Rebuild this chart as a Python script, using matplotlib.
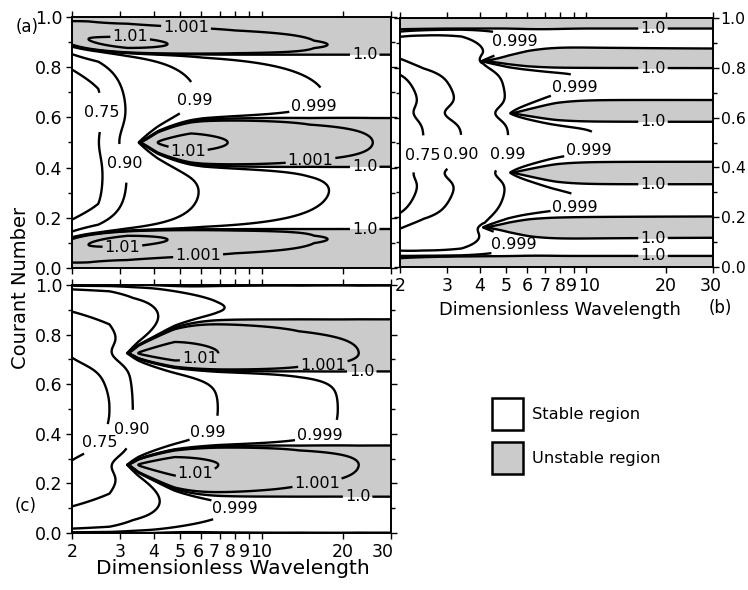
import numpy as np
import matplotlib
matplotlib.use("Agg")
import matplotlib.pyplot as plt
from matplotlib.patches import Rectangle
from matplotlib.transforms import ScaledTranslation
from matplotlib.ticker import FixedLocator, FixedFormatter, MultipleLocator, NullLocator, NullFormatter

plt.rcParams["font.family"] = ["DejaVu Sans"]

# ------------------------------------------------------------------ shared
LEVELS = [0.75, 0.90, 0.99, 0.999, 1.0, 1.001, 1.01]
LEVEL_TEXT = ["0.75", "0.90", "0.99", "0.999", "1.0", "1.001", "1.01"]
WAVELENGTH_TICKS = [2, 3, 4, 5, 6, 7, 8, 9, 10, 20, 30]
WAVELENGTH_TICK_LABELS = ["2", "3", "4", "5", "6", "7", "8", "9", "10", "20", "30"]
COURANT_TICKS = [0.0, 0.2, 0.4, 0.6, 0.8, 1.0]
COURANT_TICK_LABELS = ["0.0", "0.2", "0.4", "0.6", "0.8", "1.0"]
LEGEND_LABELS = ["Stable region", "Unstable region"]

# ------------------------------------------------------------------ panel (a)
A_DAMP_WL = [2.0, 2.5, 3.2, 6.1, 17.2, 30.0]
A_DAMP = [0.40, 0.30, 0.10, 0.010, 0.0012, 0.0004]
A_EDGE_LO = [0.12, 0.155]
A_EDGE_HI = [0.885, 0.85]
A_KAPPA = [0.10, 0.13]
A_POWER = [1.0, 1.0]
A_EDGE_WL = [2.0, 2.3, 3.2, 4.5, 8.0, 15.6, 30.0]
A_EDGE_GAIN = [0.005, 0.010, 0.014, 0.010, 0.0045, 0.00115, 0.0003]
A_EDGE_WIDTH = 0.04
A_TIP_WL = [3.52]
A_TIP_CN = [0.50]
A_BAND_TOP = [0.60]
A_BAND_BOTTOM = [0.40]
A_GAIN_RATIO = [1.0, 1.176, 1.56, 2.13, 4.26, 7.3, 8.6]
A_GAIN = [0.0, 0.010, 0.013, 0.010, 0.003, 0.001, 0.0007]
A_DIP = [0.45, 0.08, 0.3, 0.3]
A_CAP = 1.25
A_LABEL_TEXT = ["1.001", "1.01", "1.0", "0.99", "0.999", "0.75", "0.90",
                "1.01", "1.001", "1.0", "1.0", "1.01", "1.001"]
A_LABEL_WL = [5.27, 3.29, 24.0, 5.84, 15.1, 2.54, 3.17, 5.4, 15.1, 24.0, 24.0, 3.07, 5.84]
A_LABEL_CN = [0.968, 0.936, 0.845, 0.66, 0.68, 0.62, 0.42, 0.49, 0.45, 0.40, 0.16, 0.09, 0.04]

# ------------------------------------------------------------------ panel (b)
B_DAMP_WL = [2.0, 2.45, 3.4, 5.1, 11.0, 30.0]
B_DAMP = [0.55, 0.25, 0.10, 0.010, 0.0010, 0.0001]
B_EDGE_LO = [0.035, 0.044]
B_EDGE_HI = [0.955, 0.958]
B_KAPPA = [0.25, 0.25]
B_POWER = [2.0, 1.0]
B_EDGE_WL = [2.0, 30.0]
B_EDGE_GAIN = [0.0005, 0.0005]
B_EDGE_WIDTH = 0.015
B_TIP_WL = [4.05, 5.18, 5.18, 4.10]
B_TIP_CN = [0.827, 0.617, 0.379, 0.159]
B_BAND_TOP = [0.874, 0.670, 0.423, 0.205]
B_BAND_BOTTOM = [0.798, 0.583, 0.333, 0.120]
B_GAIN_RATIO = [1.0, 1.5, 3.0, 8.0]
B_GAIN = [0.0, 0.0006, 0.0009, 0.0007]
B_DIP = [0.5, 0.04, 1.0, 0.3]
B_CAP = 2.0
B_LABEL_TEXT = ["1.0", "0.999", "1.0", "0.999", "1.0", "0.999", "1.0", "0.999",
                "1.0", "0.999", "1.0", "0.75", "0.90", "0.99"]
B_LABEL_WL = [17.85, 5.9, 17.85, 9.3, 17.85, 10.3, 17.85, 9.1, 17.85, 5.95, 17.85, 2.42, 3.42, 5.1]
B_LABEL_CN = [0.962, 0.90, 0.80, 0.69, 0.583, 0.456, 0.336, 0.24, 0.12, 0.08, 0.044, 0.45, 0.45, 0.45]

# ------------------------------------------------------------------ panel (c)
C_DAMP_WL = [2.0, 2.75, 3.35, 6.9, 19.1, 30.0]
C_DAMP = [0.40, 0.25, 0.10, 0.010, 0.0010, 0.0004]
C_EDGE_LO = [0.0, 0.0]
C_EDGE_HI = [1.0, 1.0]
C_KAPPA = [0.5, 0.5]
C_POWER = [1.3, 1.3]
C_EDGE_WL = [2.0, 30.0]
C_EDGE_GAIN = [0.0, 0.0]
C_EDGE_WIDTH = 0.04
C_TIP_WL = [3.19, 3.19]
C_TIP_CN = [0.725, 0.275]
C_BAND_TOP = [0.84, 0.36]
C_BAND_BOTTOM = [0.645, 0.165]
C_GAIN_RATIO = [1.0, 1.1, 1.5, 2.17, 4.3, 7.15, 9.5]
C_GAIN = [0.0, 0.010, 0.014, 0.010, 0.003, 0.001, 0.0006]
C_DIP = [0.5, 0.05, 0.5, 0.3]
C_CAP = 1.25
C_LABEL_TEXT = ["1.01", "1.001", "1.0", "0.90", "0.75", "0.99", "0.999",
                "1.01", "1.001", "1.0", "0.999"]
C_LABEL_WL = [5.9, 16.8, 23.4, 3.48, 2.58, 6.26, 16.1, 5.7, 15.9, 22.6, 10.2]
C_LABEL_CN = [0.71, 0.69, 0.647, 0.415, 0.36, 0.415, 0.415, 0.245, 0.226, 0.165, 0.133]

SHADE = "#cbcbcb"


def amplification(WL, CN, damp_wl, damp, edge_lo, edge_hi, kappa, power,
                  edge_wl, edge_gain, edge_width, tip_wl, tip_cn,
                  band_top, band_bottom, gain_ratio, gain, dip, cap):
    """Amplification-factor modulus on a (wavelength, Courant) grid."""
    u = np.log(WL)
    scale = np.exp(np.interp(u, np.log(damp_wl), np.log(damp)))
    ramp = 1.0 - np.exp(-np.log(WL / 2.0) / 0.3)
    lo = edge_lo[0] + (edge_lo[1] - edge_lo[0]) * ramp
    hi = edge_hi[0] + (edge_hi[1] - edge_hi[0]) * ramp
    p = power[1] + (power[0] - power[1]) * (1.0 - ramp)

    def base(c):
        a = np.tanh(np.clip(c - lo, 0, None) / kappa[0])
        b = np.tanh(np.clip(hi - c, 0, None) / kappa[1])
        return (a * b) ** p

    def dips(c):
        f = np.ones_like(WL)
        for lt, ct in zip(tip_wl, tip_cn):
            du = u - np.log(lt)
            decay = np.where(du < 0, np.exp(np.minimum(du, 0) / dip[2]),
                             np.exp(-np.maximum(du, 0) / dip[3]))
            f = f * (1.0 - dip[0] * np.exp(-((c - ct) / dip[1]) ** 2) * decay)
        return f

    mid = base(0.5 * (lo + hi))
    damping = scale * base(CN) * dips(CN) / mid

    edge = np.interp(u, np.log(edge_wl), edge_gain)
    x_lo = np.clip((lo - CN) / edge_width, 0, None)
    x_hi = np.clip((CN - hi) / edge_width, 0, None)
    bump = lambda x: x * np.exp(0.5 * (1.0 - x ** 2))
    edge_term = edge * (bump(x_lo) + bump(x_hi))

    keep = np.ones_like(WL)
    lift = np.zeros_like(WL)
    for lt, ct, top, bot in zip(tip_wl, tip_cn, band_top, band_bottom):
        du = u - np.log(lt)
        g = np.interp(du, np.log(gain_ratio), gain, left=0.0)
        hw = np.where(du > 0, 1.0 - np.exp(-np.clip(du, 0, None) / 0.15), 0.0)
        fb = scale * base(ct) * dips(ct) / mid
        zb = np.sqrt(np.log1p(g / np.maximum(fb, 1e-12)))
        half = np.where(CN >= ct, top - ct, ct - bot)
        widen = (zb ** 6 + cap ** -6) ** (-1.0 / 6.0)
        width = half * hw * widen
        n = np.where(width > 0,
                     np.exp(-((CN - ct) / np.maximum(width, 1e-12)) ** 2), 0.0)
        keep *= 1.0 - n
        lift += g * n
    return 1.0 - damping * keep + lift + edge_term - 1e-9


wl = np.exp(np.linspace(np.log(2.0), np.log(30.0), 900))
cn = np.linspace(0.0, 1.0, 900)
WL, CN = np.meshgrid(wl, cn)

fig = plt.figure(figsize=(7.48, 5.90), dpi=100)
W, H = 748.0, 590.0
ax_a = fig.add_axes([72 / W, 1 - 268 / H, 319 / W, 251 / H])
ax_b = fig.add_axes([400 / W, 1 - 267 / H, 313 / W, 249 / H])
ax_c = fig.add_axes([72 / W, 1 - 533 / H, 319 / W, 248 / H])

panels = [
    (ax_a, (A_DAMP_WL, A_DAMP, A_EDGE_LO, A_EDGE_HI, A_KAPPA, A_POWER, A_EDGE_WL,
            A_EDGE_GAIN, A_EDGE_WIDTH, A_TIP_WL, A_TIP_CN, A_BAND_TOP, A_BAND_BOTTOM,
            A_GAIN_RATIO, A_GAIN, A_DIP, A_CAP), (A_LABEL_TEXT, A_LABEL_WL, A_LABEL_CN)),
    (ax_b, (B_DAMP_WL, B_DAMP, B_EDGE_LO, B_EDGE_HI, B_KAPPA, B_POWER, B_EDGE_WL,
            B_EDGE_GAIN, B_EDGE_WIDTH, B_TIP_WL, B_TIP_CN, B_BAND_TOP, B_BAND_BOTTOM,
            B_GAIN_RATIO, B_GAIN, B_DIP, B_CAP), (B_LABEL_TEXT, B_LABEL_WL, B_LABEL_CN)),
    (ax_c, (C_DAMP_WL, C_DAMP, C_EDGE_LO, C_EDGE_HI, C_KAPPA, C_POWER, C_EDGE_WL,
            C_EDGE_GAIN, C_EDGE_WIDTH, C_TIP_WL, C_TIP_CN, C_BAND_TOP, C_BAND_BOTTOM,
            C_GAIN_RATIO, C_GAIN, C_DIP, C_CAP), (C_LABEL_TEXT, C_LABEL_WL, C_LABEL_CN)),
]

for ax, params, labels in panels:
    Z = amplification(WL, CN, *params)
    ax.contourf(WL, CN, Z, levels=[1.0, 100.0], colors=[SHADE])
    ax.set_xscale("log")
    ax.set_xlim(2, 30)
    ax.set_ylim(0, 1)
    for lev, lev_txt in zip(LEVELS, LEVEL_TEXT):
        cs = ax.contour(WL, CN, Z, levels=[lev], colors="black", linewidths=1.7)
        spots = [(w_, c_) for t_, w_, c_ in zip(*labels) if t_ == lev_txt]
        if spots and len(cs.allsegs[0]) > 0:
            texts = cs.clabel(fmt={lev: lev_txt}, fontsize=11.5, inline=True,
                              inline_spacing=2, manual=spots)
            for t in texts:
                t.set_rotation(0)
    ax.xaxis.set_major_locator(FixedLocator(WAVELENGTH_TICKS))
    ax.xaxis.set_minor_locator(NullLocator())
    ax.xaxis.set_major_formatter(FixedFormatter(WAVELENGTH_TICK_LABELS))
    ax.xaxis.set_minor_formatter(NullFormatter())
    ax.yaxis.set_major_locator(FixedLocator(COURANT_TICKS))
    ax.yaxis.set_major_formatter(FixedFormatter(COURANT_TICK_LABELS))
    ax.yaxis.set_minor_locator(MultipleLocator(0.1))
    ax.tick_params(which="both", direction="out", width=1.0, labelsize=12.5,
                   top=True, bottom=True, left=True, right=True, pad=3)
    ax.tick_params(which="major", length=4)
    ax.tick_params(which="minor", length=3)
    for sp in ax.spines.values():
        sp.set_linewidth(1.4)

ax_a.tick_params(labelbottom=False, labelleft=True, labelright=False)
ax_c.tick_params(labelbottom=True, labelleft=True, labelright=False)
ax_b.tick_params(labelbottom=True, labelleft=False, labelright=True)
ax_b.tick_params(axis="y", labelsize=11.3, pad=1.5)

# crowded wavelength labels are nudged sideways so neighbours do not collide
C_NUDGE = [0, 0, 0, 0, -3, -5, -5, -5, 0, 0, -8]
B_NUDGE = [0, 0, 0, 0, 0, 0, 0, -2, 3, 0, -2]
for ax, nudge in ((ax_c, C_NUDGE), (ax_b, B_NUDGE)):
    for tick, shift in zip(ax.xaxis.get_major_ticks(), nudge):
        if shift:
            lab = tick.label1
            lab.set_transform(lab.get_transform()
                              + ScaledTranslation(shift / 100.0, 0, fig.dpi_scale_trans))

fig.text(21 / W, 1 - 288 / H, "Courant Number", rotation=90, ha="center",
         va="center", fontsize=14)
fig.text(233 / W, 1 - 569 / H, "Dimensionless Wavelength", ha="center",
         va="center", fontsize=14.6)
fig.text(560 / W, 1 - 310 / H, "Dimensionless Wavelength", ha="center",
         va="center", fontsize=12.9)
fig.text(27 / W, 1 - 27 / H, "(a)", ha="center", va="center", fontsize=12)
fig.text(720 / W, 1 - 308 / H, "(b)", ha="center", va="center", fontsize=12)
fig.text(26 / W, 1 - 506 / H, "(c)", ha="center", va="center", fontsize=12)

# legend boxes
for i, (lab, face) in enumerate(zip(LEGEND_LABELS, ["white", SHADE])):
    y_top = 398 + i * 44
    fig.add_artist(Rectangle((492 / W, 1 - (y_top + 32) / H), 31 / W, 32 / H,
                             transform=fig.transFigure, facecolor=face,
                             edgecolor="black", linewidth=1.8))
    fig.text(532 / W, 1 - (y_top + 17) / H, lab, ha="left", va="center", fontsize=11.7)

fig.savefig("out.png", dpi=100, facecolor="white")
